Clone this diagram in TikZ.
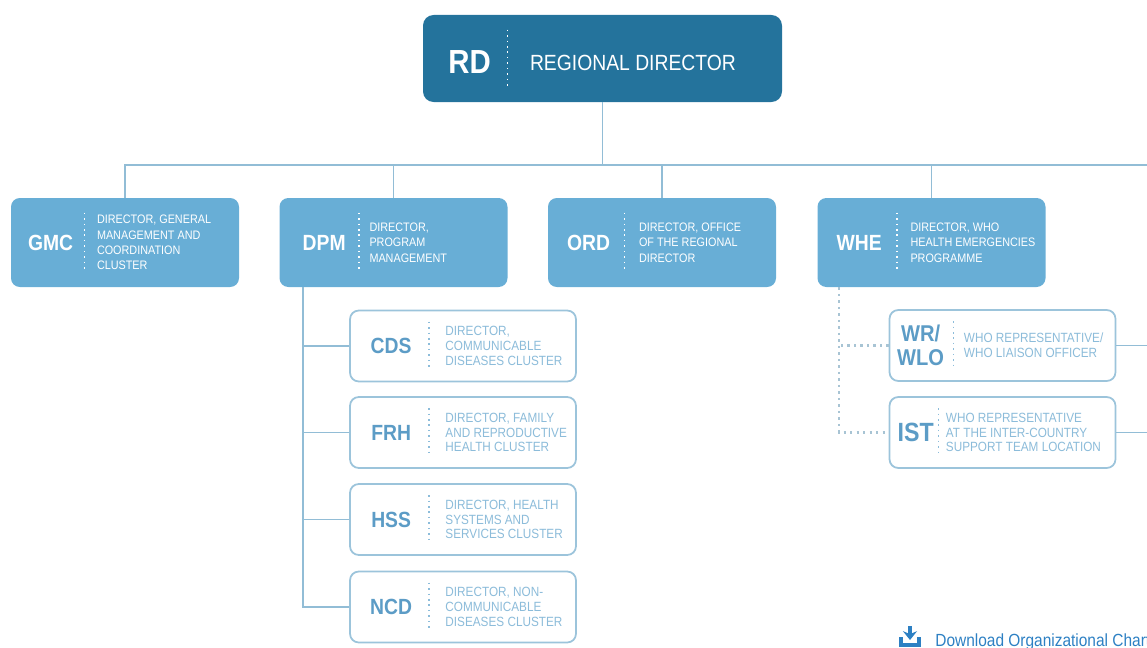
\documentclass[tikz,border=0pt]{standalone}
\usepackage{fontspec}
\setmainfont{Liberation Sans}[FakeStretch=0.88]
\usetikzlibrary{positioning,arrows.meta}
\definecolor{rdblue}{HTML}{24739C}
\definecolor{boxblue}{HTML}{68AED6}
\definecolor{linkblue}{HTML}{92BDD6}
\definecolor{edgeblue}{HTML}{9CC4DB}
\definecolor{abbrblue}{HTML}{5C9CC6}
\definecolor{txtblue}{HTML}{8CBCDA}
\definecolor{dotgrey}{HTML}{A8C4D4}
\definecolor{dlblue}{HTML}{2D80C3}
\begin{document}
\begin{tikzpicture}[
  topbox/.style={fill=rdblue,rounded corners=6pt,minimum width=7.18cm,minimum height=1.74cm,inner sep=0pt},
  midbox/.style={fill=boxblue,rounded corners=5pt,minimum width=4.56cm,minimum height=1.78cm,inner sep=0pt},
  subbox/.style={draw=edgeblue,line width=1pt,fill=white,rounded corners=5pt,minimum width=4.52cm,minimum height=1.42cm,inner sep=0pt},
  bigabbr/.style={text=white,font=\bfseries\fontsize{19}{19}\selectfont,inner sep=0pt},
  abbr/.style={text=white,font=\bfseries\fontsize{12.5}{13}\selectfont,inner sep=0pt,align=center},
  subabbr/.style={abbr,text=abbrblue},
  desc/.style={text=white,font=\fontsize{7}{8.8}\selectfont,anchor=west,align=left,inner sep=0pt},
  subdesc/.style={desc,text=txtblue,font=\fontsize{7.6}{8.4}\selectfont},
  sep/.style={draw=white,line width=0.9pt,dash pattern=on 0.9pt off 2.2pt},
  subsep/.style={sep,draw=txtblue},
  link/.style={draw=linkblue,line width=1.1pt},
  dotlink/.style={draw=dotgrey,line width=1.3pt,dash pattern=on 1.3pt off 2.4pt},
]
\useasboundingbox (0,0) rectangle (22.94,-12.96);
\clip (0,0) rectangle (22.94,-12.96);

%regional director
\node[topbox] (rd) at (12.05,-1.17) {};
\node[bigabbr] (rdab) at ([xshift=0.94cm,yshift=-0.08cm]rd.west) {RD};
\draw[sep] ([xshift=1.7cm,yshift=-0.3cm]rd.north west) -- ([xshift=1.7cm,yshift=0.3cm]rd.south west);
\node[desc,font=\fontsize{12.5}{14}\selectfont] (rdtx) at ([xshift=2.14cm,yshift=-0.08cm]rd.west) {REGIONAL DIRECTOR};

%directors
\node[midbox] (gmc) at (2.5,-4.85) {};
\node[abbr] (gmcab) at ([xshift=0.8cm]gmc.west) {GMC};
\draw[sep] ([xshift=1.48cm,yshift=-0.3cm]gmc.north west) -- ([xshift=1.48cm,yshift=0.3cm]gmc.south west);
\node[desc] (gmctx) at ([xshift=1.72cm]gmc.west) {DIRECTOR, GENERAL\\MANAGEMENT AND\\COORDINATION\\CLUSTER};

\node[midbox] (dpm) at (7.87,-4.85) {};
\node[abbr] (dpmab) at ([xshift=0.9cm]dpm.west) {DPM};
\draw[sep] ([xshift=1.6cm,yshift=-0.3cm]dpm.north west) -- ([xshift=1.6cm,yshift=0.3cm]dpm.south west);
\node[desc] (dpmtx) at ([xshift=1.8cm]dpm.west) {DIRECTOR,\\PROGRAM\\MANAGEMENT};

\node[midbox] (ord) at (13.24,-4.85) {};
\node[abbr] (ordab) at ([xshift=0.82cm]ord.west) {ORD};
\draw[sep] ([xshift=1.54cm,yshift=-0.3cm]ord.north west) -- ([xshift=1.54cm,yshift=0.3cm]ord.south west);
\node[desc] (ordtx) at ([xshift=1.82cm]ord.west) {DIRECTOR, OFFICE\\OF THE REGIONAL\\DIRECTOR};

\node[midbox] (whe) at (18.63,-4.85) {};
\node[abbr] (wheab) at ([xshift=0.84cm]whe.west) {WHE};
\draw[sep] ([xshift=1.6cm,yshift=-0.3cm]whe.north west) -- ([xshift=1.6cm,yshift=0.3cm]whe.south west);
\node[desc] (whetx) at ([xshift=1.86cm]whe.west) {DIRECTOR, WHO\\HEALTH EMERGENCIES\\PROGRAMME};

%clusters
\node[subbox] (cds) at (9.26,-6.92) {};
\node[subabbr] (cdsab) at ([xshift=0.84cm]cds.west) {CDS};
\draw[subsep] ([xshift=1.6cm,yshift=-0.24cm]cds.north west) -- ([xshift=1.6cm,yshift=0.24cm]cds.south west);
\node[subdesc] (cdstx) at ([xshift=1.92cm]cds.west) {DIRECTOR,\\COMMUNICABLE\\DISEASES CLUSTER};

\node[subbox] (frh) at (9.26,-8.65) {};
\node[subabbr] (frhab) at ([xshift=0.84cm]frh.west) {FRH};
\draw[subsep] ([xshift=1.6cm,yshift=-0.24cm]frh.north west) -- ([xshift=1.6cm,yshift=0.24cm]frh.south west);
\node[subdesc] (frhtx) at ([xshift=1.92cm]frh.west) {DIRECTOR, FAMILY\\AND REPRODUCTIVE\\HEALTH CLUSTER};

\node[subbox] (hss) at (9.26,-10.39) {};
\node[subabbr] (hssab) at ([xshift=0.84cm]hss.west) {HSS};
\draw[subsep] ([xshift=1.6cm,yshift=-0.24cm]hss.north west) -- ([xshift=1.6cm,yshift=0.24cm]hss.south west);
\node[subdesc] (hsstx) at ([xshift=1.92cm]hss.west) {DIRECTOR, HEALTH\\SYSTEMS AND\\SERVICES CLUSTER};

\node[subbox] (ncd) at (9.26,-12.14) {};
\node[subabbr] (ncdab) at ([xshift=0.84cm]ncd.west) {NCD};
\draw[subsep] ([xshift=1.6cm,yshift=-0.24cm]ncd.north west) -- ([xshift=1.6cm,yshift=0.24cm]ncd.south west);
\node[subdesc] (ncdtx) at ([xshift=1.92cm]ncd.west) {DIRECTOR, NON-\\COMMUNICABLE\\DISEASES CLUSTER};

%country offices
\node[subbox] (wr) at (20.05,-6.91) {};
\node[subabbr,font=\bfseries\fontsize{13}{14}\selectfont] (wrab) at ([xshift=0.64cm]wr.west) {WR/\\WLO};
\draw[subsep] ([xshift=1.3cm,yshift=-0.24cm]wr.north west) -- ([xshift=1.3cm,yshift=0.24cm]wr.south west);
\node[subdesc] (wrtx) at ([xshift=1.5cm]wr.west) {WHO REPRESENTATIVE/\\WHO LIAISON OFFICER};

\node[subbox] (ist) at (20.05,-8.65) {};
\node[subabbr,font=\bfseries\fontsize{15}{15}\selectfont] (istab) at ([xshift=0.54cm]ist.west) {IST};
\draw[subsep] ([xshift=1.0cm,yshift=-0.24cm]ist.north west) -- ([xshift=1.0cm,yshift=0.24cm]ist.south west);
\node[subdesc] (isttx) at ([xshift=1.14cm]ist.west) {WHO REPRESENTATIVE\\AT THE INTER-COUNTRY\\SUPPORT TEAM LOCATION};

%connectors
\coordinate (bus) at (12.05,-3.3);
\coordinate (busend) at (23.5,-3.3);
\draw[link] (rd.south) -- (bus);
\draw[link] (gmc.north) |- (busend);
\foreach \d in {dpm,ord,whe}
  \draw[link] (\d.north) -- (\d.north |- bus);
\coordinate (trunk) at ([xshift=0.48cm]dpm.south west);
\draw[link] (trunk) |- (ncd.west);
\foreach \c in {cds,frh,hss}
  \draw[link] (\c.west) -- (\c.west -| trunk);
\coordinate (whetrunk) at ([xshift=0.44cm]whe.south west);
\draw[dotlink] (whetrunk) |- (ist.west);
\draw[dotlink] (wr.west) -- (wr.west -| whetrunk);
\draw[link] (wr.east) -- (wr.east -| busend);
\draw[link] (ist.east) -- (ist.east -| busend);

%download
\draw[dlblue,line width=1.8pt,-{Stealth[length=5pt,width=8pt]}] (18.2,-12.52) -- (18.2,-12.8);
\draw[dlblue,line width=1.8pt] (18.02,-12.74) -- (18.02,-12.9) -- (18.38,-12.9) -- (18.38,-12.74);
\node[anchor=base west,inner sep=0pt,text=dlblue,font=\fontsize{10}{12}\selectfont] (dl) at (18.7,-12.92) {Download Organizational Chart};
\end{tikzpicture}
\end{document}
